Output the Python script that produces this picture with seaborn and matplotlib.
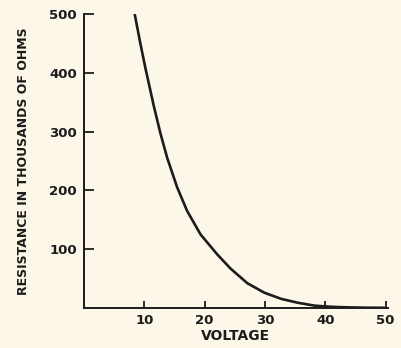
import matplotlib
matplotlib.use("Agg")
import matplotlib.pyplot as plt
import seaborn as sns
import pandas as pd

# Resistance (thousands of ohms) versus applied voltage
voltage = [8.4, 9.3, 10.2, 11.56, 12.67, 13.8, 15.45, 17.1, 19.33, 22.1,
           24.3, 27.1, 29.9, 32.7, 35.4, 38.2, 41.0, 44.0, 47.0, 50.0]
resistance = [500, 452, 407, 344, 297, 255, 205, 165, 125, 91,
              67, 42, 26, 15.5, 9, 4, 2, 1, 0.5, 0.3]

x_ticks = [10, 20, 30, 40, 50]
y_ticks = [100, 200, 300, 400, 500]

bg = "#fcf7e8"
ink = "#1c1c1c"

sns.set_theme(style="ticks")
plt.rcParams["font.family"] = ["DejaVu Sans"]

df = pd.DataFrame({"VOLTAGE": voltage, "RESISTANCE": resistance})

fig = plt.figure(figsize=(4.02, 3.48), dpi=100, facecolor=bg)
ax = fig.add_axes([0.209, 0.115, 0.756, 0.845])
ax.set_facecolor(bg)

sns.lineplot(data=df, x="VOLTAGE", y="RESISTANCE", ax=ax, color=ink,
             linewidth=1.9, sort=True)
for ln in ax.lines:
    ln.set_solid_joinstyle("round")
    ln.set_solid_capstyle("round")

ax.set_xlim(0, 50.4)
ax.set_ylim(0, 500)
ax.set_xticks(x_ticks)
ax.set_yticks(y_ticks)
ax.set_xticklabels([str(t) for t in x_ticks])
ax.set_yticklabels([str(t) for t in y_ticks])

for side in ("top", "right"):
    ax.spines[side].set_visible(False)
for side in ("left", "bottom"):
    ax.spines[side].set_color(ink)
    ax.spines[side].set_linewidth(1.4)

ax.tick_params(axis="y", direction="in", length=7, width=1.3, colors=ink,
               labelsize=9.5, pad=5)
ax.tick_params(axis="x", direction="in", length=5, width=1.3, colors=ink,
               labelsize=9.5, pad=4)
for lab in ax.get_xticklabels() + ax.get_yticklabels():
    lab.set_fontweight("bold")

ax.set_xlabel("VOLTAGE", fontsize=10, fontweight="bold", color=ink, labelpad=2)
ax.set_ylabel("RESISTANCE IN THOUSANDS OF OHMS", fontsize=9, fontweight="bold",
              color=ink, labelpad=14)

fig.savefig("out.png", dpi=100, facecolor=bg)
